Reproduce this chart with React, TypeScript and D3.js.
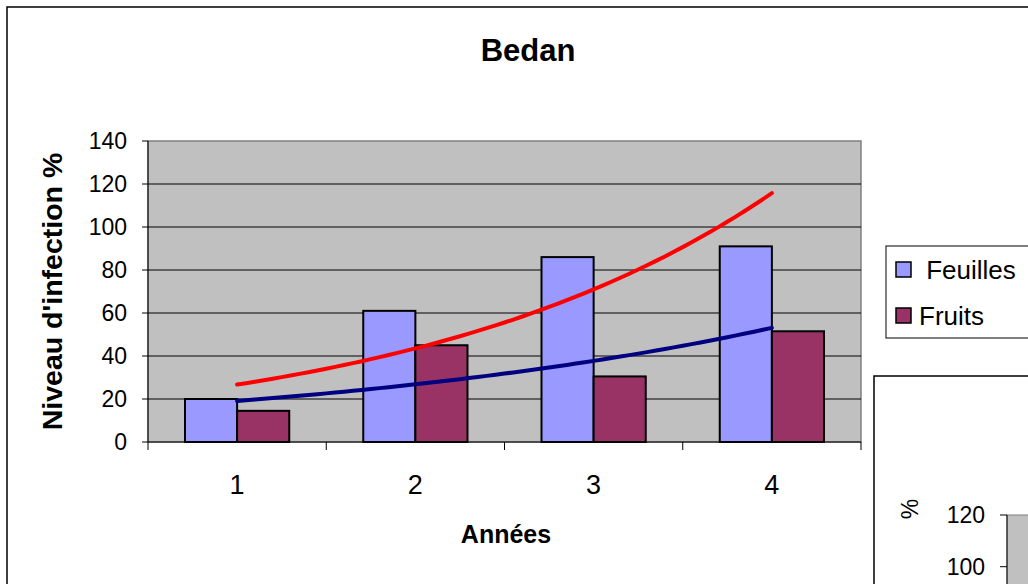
import * as d3 from "d3";

// values
const years = ["1", "2", "3", "4"];
const feuilles = [20, 61, 86, 91];
const fruits = [14.5, 45, 30.5, 51.5];
const seriesNames = ["Feuilles", "Fruits"];
const legendLabels = [" Feuilles", "Fruits"];
const seriesColors = ["#9999FF", "#993366"];
const trendColors = ["#FF0000", "#000080"];
const yTicks = [0, 20, 40, 60, 80, 100, 120, 140];
const insetTicks = [100, 120];

const W = 1028;
const H = 584;
const font = "Arial, 'Liberation Sans', sans-serif";

// exponential trendline (like Excel's): ln(y) = ln(a) + b*x
function expFit(values: number[]) {
  const xs = values.map((_, i) => i + 1);
  const ls = values.map((v) => Math.log(v));
  const mx = d3.mean(xs)!;
  const ml = d3.mean(ls)!;
  const b =
    d3.sum(xs, (x, i) => (x - mx) * (ls[i] - ml)) /
    d3.sum(xs, (x) => (x - mx) * (x - mx));
  const a = Math.exp(ml - b * mx);
  return (x: number) => a * Math.exp(b * x);
}

export default function App() {
  const left = 148;
  const right = 861;
  const top = 141;
  const bottom = 442;

  const x = d3.scaleBand<string>().domain(years).range([left, right]);
  const xSub = d3
    .scaleBand<string>()
    .domain(seriesNames)
    .range([0, x.bandwidth()])
    .paddingOuter(0.71);
  const y = d3.scaleLinear().domain([0, 140]).range([bottom, top]);
  const xTrend = d3.scaleLinear().domain([0.5, years.length + 0.5]).range([left, right]);

  const data = [feuilles, fruits];
  const line = d3
    .line<number[]>()
    .x((d) => xTrend(d[0]))
    .y((d) => y(d[1]));
  const trends = data.map((vals) => {
    const f = expFit(vals);
    return d3.range(1, years.length + 0.001, 0.05).map((t) => [t, f(t)]);
  });

  // small second chart peeking in at bottom right
  const yInset = d3.scaleLinear().domain([100, 120]).range([566.7, 515]);

  return (
    <svg
      width={W}
      height={H}
      style={{ position: "absolute", left: 0, top: 0, background: "#fff" }}
      fontFamily={font}
    >
      {/* chart area border */}
      <rect x={7} y={7} width={W + 20} height={H + 20} fill="#fff" stroke="#000" strokeWidth={1.5} />

      <text x={528} y={61} textAnchor="middle" fontSize={31} fontWeight="bold">
        Bedan
      </text>

      {/* plot area */}
      <rect x={left} y={top} width={right - left} height={bottom - top} fill="#C0C0C0" stroke="#808080" strokeWidth={1.5} />
      {yTicks.slice(1, -1).map((t) => (
        <line key={t} x1={left} x2={right} y1={y(t)} y2={y(t)} stroke="#000" strokeWidth={1} />
      ))}

      {/* bars */}
      {years.map((yr, i) => (
        <g key={yr} transform={`translate(${x(yr)},0)`}>
          {seriesNames.map((s, j) => (
            <rect
              key={s}
              x={xSub(s)}
              y={y(data[j][i])}
              width={xSub.bandwidth()}
              height={y(0) - y(data[j][i])}
              fill={seriesColors[j]}
              stroke="#000"
              strokeWidth={2}
            />
          ))}
        </g>
      ))}

      {/* trendlines */}
      {trends.map((pts, j) => (
        <path key={j} d={line(pts as any) || ""} fill="none" stroke={trendColors[j]} strokeWidth={4} strokeLinecap="round" />
      ))}

      {/* y axis */}
      <line x1={left} x2={left} y1={top} y2={bottom} stroke="#000" strokeWidth={1} />
      {yTicks.map((t) => (
        <g key={t}>
          <line x1={left - 6} x2={left} y1={y(t)} y2={y(t)} stroke="#000" />
          <text x={127} y={y(t)} dy="0.36em" textAnchor="end" fontSize={23}>
            {t}
          </text>
        </g>
      ))}
      <text
        transform={`translate(62,${(top + bottom) / 2}) rotate(-90)`}
        textAnchor="middle"
        fontSize={28.5}
        fontWeight="bold"
      >
        Niveau d'infection %
      </text>

      {/* x axis */}
      <line x1={left} x2={right} y1={bottom} y2={bottom} stroke="#000" strokeWidth={1} />
      {[...years.map((yr) => x(yr)!), right].map((px, i) => (
        <line key={i} x1={px} x2={px} y1={bottom} y2={bottom + 8} stroke="#000" />
      ))}
      {years.map((yr) => (
        <text key={yr} x={x(yr)! + x.bandwidth() / 2} y={494} textAnchor="middle" fontSize={27}>
          {yr}
        </text>
      ))}
      <text x={506} y={543} textAnchor="middle" fontSize={25} fontWeight="bold">
        Années
      </text>

      {/* legend */}
      <rect x={886} y={246} width={200} height={92} fill="#fff" stroke="#000" strokeWidth={1} />
      {legendLabels.map((lab, j) => (
        <g key={lab} transform={`translate(0,${j * 46})`}>
          <rect x={896} y={262} width={15} height={15} fill={seriesColors[j]} stroke="#000" strokeWidth={1.5} />
          <text x={919} y={279} fontSize={26} style={{ whiteSpace: "pre" }}>
            {lab}
          </text>
        </g>
      ))}

      {/* second chart, mostly off-screen */}
      <rect x={874} y={376} width={200} height={250} fill="#fff" stroke="#000" strokeWidth={1.5} />
      <rect x={1007} y={yInset(120)} width={60} height={100} fill="#C0C0C0" stroke="#808080" strokeWidth={1} />
      <line x1={1007} x2={1007} y1={yInset(120)} y2={H + 10} stroke="#000" />
      {insetTicks.map((t) => (
        <g key={t}>
          <line x1={1000} x2={1007} y1={yInset(t)} y2={yInset(t)} stroke="#000" />
          <text x={985} y={yInset(t)} dy="0.36em" textAnchor="end" fontSize={23}>
            {t}
          </text>
        </g>
      ))}
      <text transform="translate(918,509) rotate(-90)" textAnchor="middle" fontSize={23}>
        %
      </text>
    </svg>
  );
}
